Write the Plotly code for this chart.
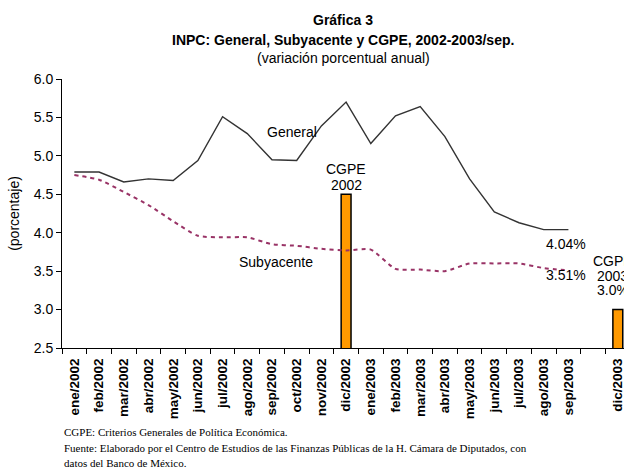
import plotly.graph_objects as go

meses = [
    "ene/2002", "feb/2002", "mar/2002", "abr/2002", "may/2002", "jun/2002",
    "jul/2002", "ago/2002", "sep/2002", "oct/2002", "nov/2002", "dic/2002",
    "ene/2003", "feb/2003", "mar/2003", "abr/2003", "may/2003", "jun/2003",
    "jul/2003", "ago/2003", "sep/2003",
]
categorias = meses + [" ", "dic/2003"]

general = [4.79, 4.79, 4.66, 4.70, 4.68, 4.94, 5.51, 5.29, 4.95, 4.94, 5.39, 5.70,
           5.16, 5.52, 5.64, 5.25, 4.70, 4.27, 4.13, 4.04, 4.04]
subyacente = [4.75, 4.69, 4.53, 4.36, 4.15, 3.96, 3.94, 3.94, 3.85, 3.83, 3.79, 3.77,
              3.78, 3.53, 3.52, 3.50, 3.60, 3.60, 3.60, 3.54, 3.51]
cgpe_x = ["dic/2002", "dic/2003"]
cgpe_y = [4.5, 3.0]

arial = "Arial, Liberation Sans, sans-serif"

fig = go.Figure()

fig.add_trace(go.Bar(
    x=cgpe_x, y=cgpe_y, width=0.4,
    marker=dict(color="#FF9900", line=dict(color="#000000", width=1.5)),
    showlegend=False,
))
fig.add_trace(go.Scatter(
    x=meses, y=general, mode="lines",
    line=dict(color="#333333", width=1.4),
    showlegend=False,
))
fig.add_trace(go.Scatter(
    x=meses, y=subyacente, mode="lines",
    line=dict(color="#993366", width=2, dash="4px,4px", shape="spline", smoothing=0.6),
    showlegend=False,
))

txt = dict(family=arial, size=14, color="#000000")

# etiquetas dentro del área de la gráfica (x como índice de categoría)
notas = [
    dict(x=7.72, y=5.31, text="General", xanchor="left"),
    dict(x=8.16, y=3.62, text="Subyacente", xanchor="center"),
    dict(x=11, y=4.83, text="CGPE", xanchor="center"),
    dict(x=11, y=4.62, text="2002", xanchor="center"),
    dict(x=19.9, y=3.855, text="4.04%", xanchor="center"),
    dict(x=19.9, y=3.45, text="3.51%", xanchor="center"),
    dict(x=22, y=3.633, text="CGPE", xanchor="center", xshift=-5),
    dict(x=22, y=3.438, text="2003", xanchor="center", xshift=-5),
    dict(x=22, y=3.256, text="3.0%", xanchor="center", xshift=-5),
]
for n in notas:
    fig.add_annotation(xref="x", yref="y", showarrow=False, yanchor="middle", font=txt, **n)

titulo = [
    ("<b>Gráfica 3</b>", 1.219),
    ("<b>INPC: General, Subyacente y CGPE, 2002-2003/sep.</b>", 1.145),
    ("(variación porcentual anual)", 1.078),
]
for t, yy in titulo:
    fig.add_annotation(xref="paper", yref="paper", x=0.5, y=yy, xanchor="center", yanchor="middle",
                       text=t, showarrow=False, font=dict(family=arial, size=14, color="#000000"))

pie = [
    ("CGPE: Criterios Generales de Política Económica.", -0.312),
    ("Fuente: Elaborado por el Centro de Estudios de las Finanzas Públicas de la H. Cámara de Diputados, con", -0.372),
    ("datos del Banco de México.", -0.428),
]
for t, yy in pie:
    fig.add_annotation(
        xref="paper", yref="paper", x=0, y=yy, xanchor="left", yanchor="middle",
        text=t, showarrow=False,
        font=dict(family="Liberation Serif, Times New Roman, serif", size=11, color="#000000"),
    )

fig.update_layout(
    width=624, height=468,
    margin=dict(l=62, r=0, t=79, b=120),
    paper_bgcolor="white", plot_bgcolor="white",
    xaxis=dict(
        type="category", categoryorder="array", categoryarray=categorias,
        range=[-0.5, 22.25],
        showline=True, linecolor="#000000", linewidth=1,
        ticks="outside", ticklen=5, tickcolor="#000000", tickson="boundaries",
        tickangle=-90, showgrid=False, ticklabelstandoff=4,
        tickfont=dict(family=arial, size=13.5, color="#000000", weight="bold"),
    ),
    yaxis=dict(
        range=[2.5, 6.0], dtick=0.5, tickformat=".1f",
        showline=True, linecolor="#000000", linewidth=1,
        ticks="outside", ticklen=5, tickcolor="#000000", showgrid=False, zeroline=False,
        tickfont=dict(family=arial, size=14, color="#000000"),
        title=dict(text="(porcentaje)", standoff=10, font=dict(family=arial, size=14, color="#000000")),
    ),
)

fig.write_html("out.html", config={"displayModeBar": False},
               post_script="document.body.style.margin='0px';")
